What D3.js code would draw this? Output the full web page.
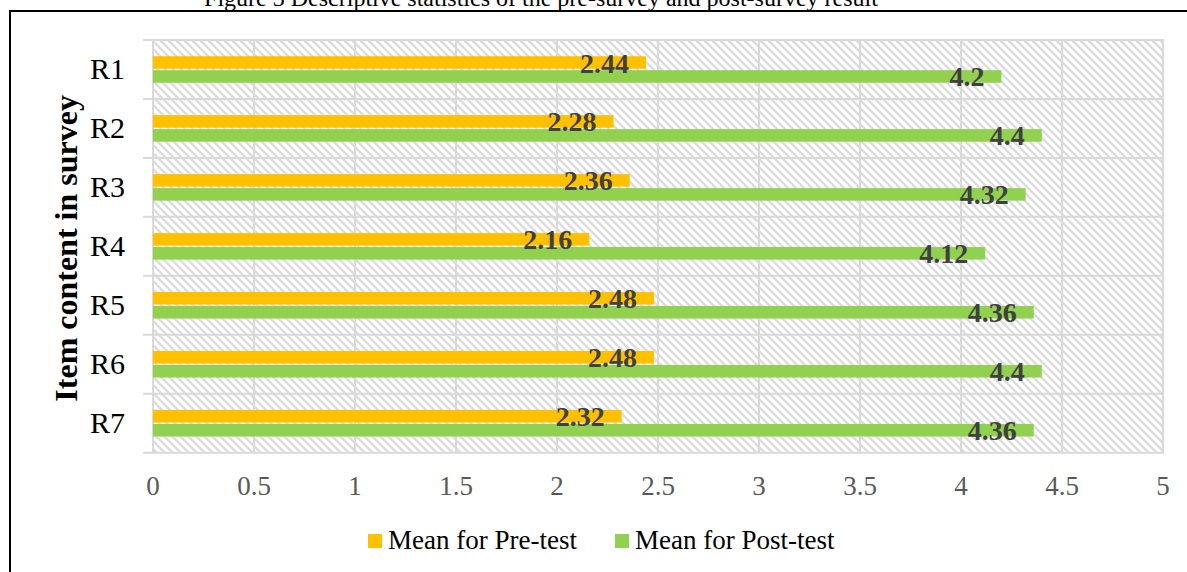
<!DOCTYPE html>
<html>
<head>
<meta charset="utf-8">
<script src="https://cdn.jsdelivr.net/npm/d3@7"></script>
<style>
  body { margin: 0; background: #fff; }
  text { font-family: "Liberation Serif", "Times New Roman", serif; }
</style>
</head>
<body>
<svg id="chart" width="1187" height="572"></svg>
<script>
var categories = ["R1", "R2", "R3", "R4", "R5", "R6", "R7"];
var preTest = [2.44, 2.28, 2.36, 2.16, 2.48, 2.48, 2.32];
var postTest = [4.2, 4.4, 4.32, 4.12, 4.36, 4.4, 4.36];
var seriesNames = ["Mean for Pre-test", "Mean for Post-test"];
var seriesColors = ["#FFC000", "#92D050"];
var xTicks = [0, 0.5, 1, 1.5, 2, 2.5, 3, 3.5, 4, 4.5, 5];

var svg = d3.select("#chart");
var plotLeft = 153, plotRight = 1163, plotTop = 40, plotBottom = 452.7;

// hatch pattern for the plot area
var defs = svg.append("defs");
var pat = defs.append("pattern")
    .attr("id", "hatch")
    .attr("width", 8).attr("height", 8)
    .attr("patternUnits", "userSpaceOnUse");
pat.append("rect").attr("width", 8).attr("height", 8).attr("fill", "#fff");
pat.append("path")
    .attr("d", "M-2,-2 L10,10 M-2,6 L2,10 M6,-2 L10,2")
    .attr("stroke", "#dcdcdc").attr("stroke-width", 2.4);

// title (cut off at top) and frame
svg.append("text")
    .attr("x", 541).attr("y", 6)
    .attr("text-anchor", "middle")
    .style("font-size", "24px")
    .attr("fill", "#000")
    .text("Figure 3 Descriptive statistics of the pre-survey and post-survey result");

svg.append("rect")
    .attr("x", 10).attr("y", 11)
    .attr("width", 1200).attr("height", 600)
    .attr("fill", "none").attr("stroke", "#000").attr("stroke-width", 2);

var x = d3.scaleLinear().domain([0, 5]).range([plotLeft, plotRight]);
var y = d3.scaleBand().domain(categories).range([plotTop, plotBottom]);
var bw = y.bandwidth();
var ySeries = d3.scaleBand().domain(seriesNames)
    .range([bw / 2 - 13.25, bw / 2 + 13.25]).paddingInner(0.1);

svg.append("rect")
    .attr("x", plotLeft).attr("y", plotTop)
    .attr("width", plotRight - plotLeft).attr("height", plotBottom - plotTop)
    .attr("fill", "url(#hatch)");

// gridlines
svg.append("g").selectAll("line")
    .data(xTicks)
    .join("line")
    .attr("x1", d => x(d)).attr("x2", d => x(d))
    .attr("y1", plotTop).attr("y2", plotBottom)
    .attr("stroke", "#d9d9d9").attr("stroke-width", 2);

var hLines = categories.map(c => y(c)).concat([plotBottom]);
svg.append("g").selectAll("line")
    .data(hLines)
    .join("line")
    .attr("x1", plotLeft - 10).attr("x2", plotRight + 1)
    .attr("y1", d => d).attr("y2", d => d)
    .attr("stroke", "#d9d9d9").attr("stroke-width", 2);

// bars
var rows = categories.map((c, i) => ({ cat: c, vals: [preTest[i], postTest[i]] }));
var rowG = svg.append("g").selectAll("g")
    .data(rows)
    .join("g")
    .attr("transform", d => "translate(0," + y(d.cat) + ")");

rowG.selectAll("rect")
    .data(d => d.vals.map((v, j) => ({ v: v, s: seriesNames[j], j: j })))
    .join("rect")
    .attr("x", x(0))
    .attr("y", d => ySeries(d.s))
    .attr("width", d => x(d.v) - x(0))
    .attr("height", ySeries.bandwidth())
    .attr("fill", d => seriesColors[d.j]);

rowG.selectAll("text")
    .data(d => d.vals.map((v, j) => ({ v: v, s: seriesNames[j] })))
    .join("text")
    .attr("x", d => x(d.v) - 17)
    .attr("y", d => ySeries(d.s) + ySeries.bandwidth() / 2 + 10)
    .attr("text-anchor", "end")
    .style("font-size", "28px")
    .style("font-weight", "bold")
    .attr("fill", "#404040")
    .text(d => d.v);

// category labels
svg.append("g").selectAll("text")
    .data(categories)
    .join("text")
    .attr("x", 125)
    .attr("y", d => y(d) + bw / 2 + 10)
    .attr("text-anchor", "end")
    .style("font-size", "30px")
    .attr("fill", "#000")
    .text(d => d);

// x tick labels
svg.append("g").selectAll("text")
    .data(xTicks)
    .join("text")
    .attr("x", d => x(d))
    .attr("y", 495)
    .attr("text-anchor", "middle")
    .style("font-size", "27px")
    .attr("fill", "#595959")
    .text(d => d);

// y axis title
svg.append("text")
    .attr("transform", "translate(77," + ((plotTop + plotBottom) / 2 + 2) + ") rotate(-90)")
    .attr("text-anchor", "middle")
    .style("font-size", "32px")
    .style("font-weight", "bold")
    .attr("fill", "#000")
    .text("Item content in survey");

// legend
var legendX = [368, 615];
var legend = svg.append("g").selectAll("g")
    .data(seriesNames)
    .join("g")
    .attr("transform", (d, i) => "translate(" + legendX[i] + ",534)");
legend.append("rect")
    .attr("width", 14).attr("height", 14)
    .attr("fill", (d, i) => seriesColors[i]);
legend.append("text")
    .attr("x", 20).attr("y", 15)
    .style("font-size", "27px")
    .attr("fill", "#000")
    .text(d => d);
</script>
</body>
</html>
